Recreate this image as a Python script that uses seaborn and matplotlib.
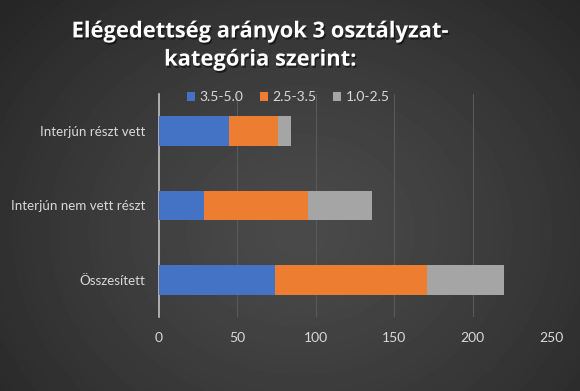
import numpy as np
import pandas as pd
import matplotlib.pyplot as plt
import matplotlib.patheffects as pe
import seaborn as sns
from matplotlib.patches import Patch

kategoriak = ['Interjún részt vett', 'Interjún nem vett részt', 'Összesített']
sorozatok = ['3.5-5.0', '2.5-3.5', '1.0-2.5']
sav_35_50 = [45, 29, 74]
sav_25_35 = [31, 66, 97]
sav_10_25 = [8, 41, 49]
x_tickek = [0, 50, 100, 150, 200, 250]
szinek = ['#4472c4', '#ed7d31', '#a5a5a5']
cim = 'Elégedettség arányok 3 osztályzat-\nkategória szerint:'

df = pd.DataFrame({'kategoria': kategoriak,
                   sorozatok[0]: sav_35_50,
                   sorozatok[1]: sav_25_35,
                   sorozatok[2]: sav_10_25})
# halmozott oszlopokhoz kumulált értékek
df['k1'] = df[sorozatok[0]]
df['k2'] = df['k1'] + df[sorozatok[1]]
df['k3'] = df['k2'] + df[sorozatok[2]]

plt.rcParams['font.family'] = ['Lato', 'DejaVu Sans']
szoveg_szin = '#d9d9d9'

fig = plt.figure(figsize=(5.8, 3.91), dpi=100)

# sötét, sugaras színátmenetes háttér
hatter = fig.add_axes([0, 0, 1, 1], zorder=-10)
yy, xx = np.mgrid[0:391, 0:580]
r = np.sqrt(((xx - 300) / 390) ** 2 + ((yy - 230) / 330) ** 2)
ertek = 0.29 - 0.14 * np.clip(r, 0, 1) ** 1.3
hatter.imshow(ertek, cmap='gray', vmin=0, vmax=1, aspect='auto',
              interpolation='bilinear')
hatter.axis('off')

ax = fig.add_axes([0.274, 0.189, 0.676, 0.571])
ax.patch.set_alpha(0)

for oszlop, szin in zip(['k3', 'k2', 'k1'], szinek[::-1]):
    sns.barplot(data=df, x=oszlop, y='kategoria', orient='h', color=szin,
                saturation=1, width=0.4, ax=ax, zorder=3)

ax.set_xlim(0, 250)
ax.set_xticks(x_tickek)
ax.set_xlabel('')
ax.set_ylabel('')
ax.grid(axis='x', color='#595959', linewidth=0.8, zorder=0)
ax.set_axisbelow(True)
for s in ['top', 'right', 'bottom']:
    ax.spines[s].set_visible(False)
ax.spines['left'].set_color('#bfbfbf')
ax.spines['left'].set_linewidth(1.2)
ax.tick_params(axis='x', length=0, pad=11, labelsize=10, labelcolor=szoveg_szin)
ax.tick_params(axis='y', length=0, pad=10, labelsize=9.6, labelcolor=szoveg_szin)

jelek = [Patch(facecolor=c, edgecolor='none') for c in szinek]
fig.legend(jelek, sorozatok, loc='center', bbox_to_anchor=(0.497, 1 - 97 / 391),
           ncol=3, frameon=False, handlelength=0.6, handleheight=0.6,
           handletextpad=0.3, columnspacing=1.2, fontsize=10,
           labelcolor=szoveg_szin)

fig.text(0.45, 1 - 46 / 391, cim, ha='center', va='center', color='white',
         fontsize=15.8, fontweight='bold', linespacing=1.45,
         family=['Open Sans', 'DejaVu Sans'],
         path_effects=[pe.withSimplePatchShadow(offset=(1, -1.5),
                                                shadow_rgbFace='black',
                                                alpha=0.5)])

fig.savefig('out.png', dpi=100)
